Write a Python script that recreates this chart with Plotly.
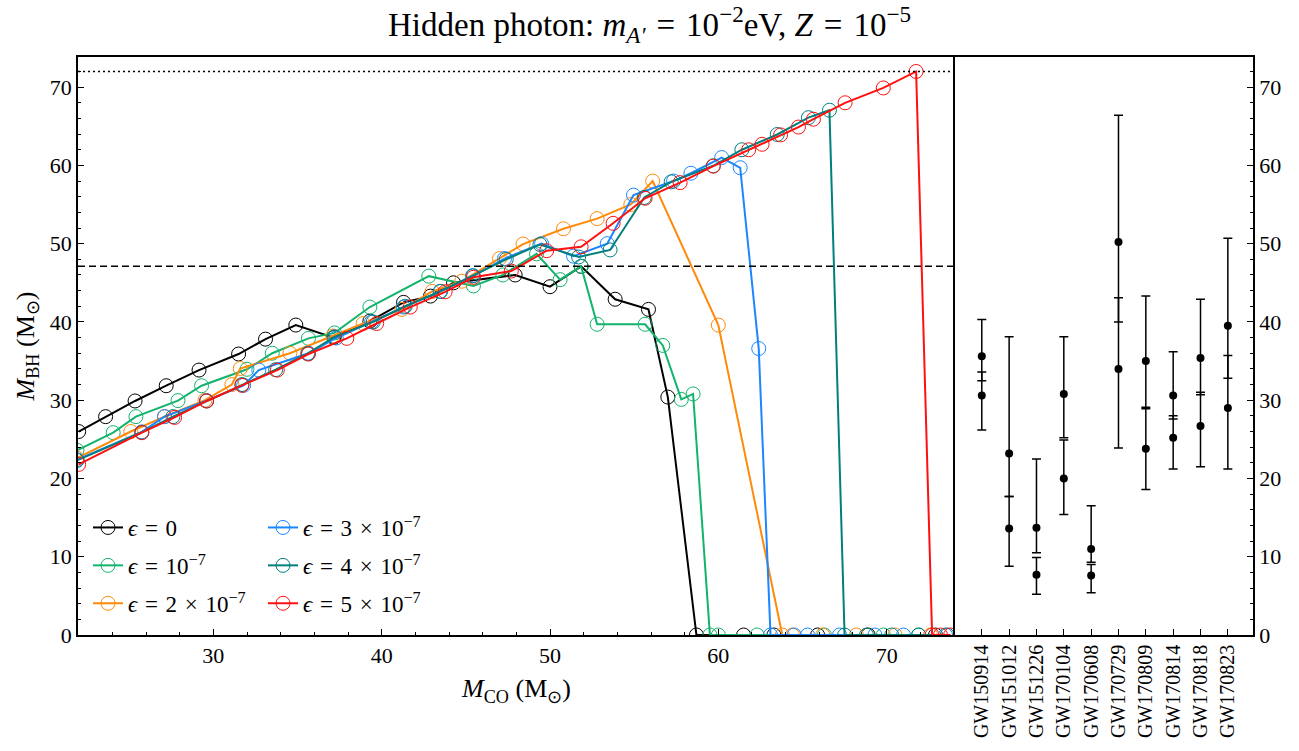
import plotly.graph_objects as go

# ---------------- data ----------------
black_x = [22.0, 23.6, 25.35, 27.2, 29.15, 31.5, 33.1, 34.9, 37.15, 39.3, 41.3, 42.9, 44.27, 47.93, 50.0, 51.85, 53.87, 55.85, 57.0, 58.7, 61.5, 63.3, 65.9, 68.9, 72.9]
black_y = [26.0, 27.9, 29.9, 31.85, 33.85, 35.9, 37.8, 39.6, 38.0, 40.1, 42.5, 43.3, 45.0, 46.0, 44.5, 47.1, 42.9, 41.6, 30.4, 0, 0, 0, 0, 0, 0]

green_x = [21.9, 24.05, 25.4, 27.9, 29.3, 32.0, 33.5, 35.65, 37.2, 39.3, 42.8, 45.45, 47.2, 49.2, 50.6, 51.85, 52.8, 55.65, 56.7, 57.8, 58.5, 59.5, 60.0, 62.3, 66.3, 69.8, 71.9]
green_y = [23.6, 25.85, 27.9, 29.95, 31.85, 33.95, 36.0, 37.9, 38.6, 41.9, 45.85, 44.6, 46.0, 48.7, 45.4, 47.1, 39.7, 39.7, 37.0, 30.1, 30.8, 0, 0, 0, 0, 0, 0]

orange_x = [21.9, 25.1, 27.1, 29.5, 31.1, 31.6, 34.55, 37.1, 38.9, 41.2, 43.0, 44.76, 47.0, 48.4, 50.8, 52.8, 54.8, 56.1, 60.0, 63.8, 64.4, 66.2, 68.2, 70.5, 72.6]
orange_y = [22.6, 26.0, 27.9, 30.0, 32.0, 34.05, 36.0, 38.2, 39.8, 41.6, 43.9, 45.2, 48.1, 49.95, 51.9, 53.2, 55.0, 58.0, 39.6, 0, 0, 0, 0, 0, 0]

blue_x = [21.9, 25.75, 27.1, 29.6, 31.8, 32.7, 35.65, 37.3, 39.4, 41.3, 43.47, 45.45, 47.3, 49.5, 51.4, 53.4, 54.96, 57.34, 58.37, 60.2, 61.3, 62.4, 63.1, 64.5, 65.3, 67.2, 69.3, 71.0, 73.5]
blue_y = [22.4, 25.95, 27.9, 29.95, 31.9, 33.85, 36.0, 37.95, 40.0, 41.9, 43.9, 45.9, 48.1, 50.0, 48.4, 50.0, 56.2, 58.0, 59.0, 61.0, 59.7, 36.6, 0, 0, 0, 0, 0, 0, 0]

teal_x = [21.9, 25.75, 27.6, 29.6, 31.7, 33.7, 35.6, 37.2, 39.5, 41.4, 43.5, 45.4, 47.4, 49.4, 51.7, 53.57, 55.6, 57.2, 59.7, 61.4, 63.5, 65.35, 66.6, 67.5, 68.8, 70.3, 71.9, 73.6]
teal_y = [22.3, 25.9, 27.9, 29.9, 32.0, 33.9, 35.95, 38.1, 40.0, 42.0, 43.9, 45.9, 48.0, 49.9, 48.3, 49.2, 55.9, 57.9, 59.95, 62.0, 63.95, 66.1, 67.05, 0, 0, 0, 0, 0]

red_x = [22.0, 25.75, 27.7, 29.6, 31.7, 33.8, 35.65, 37.93, 39.7, 41.7, 43.77, 45.45, 47.7, 49.8, 51.85, 53.75, 55.65, 57.73, 59.7, 61.8, 62.6, 63.7, 64.76, 65.65, 67.53, 69.8, 71.75, 72.7, 73.2, 73.8]
red_y = [21.8, 25.85, 27.8, 29.9, 31.9, 33.85, 35.9, 37.9, 39.8, 41.9, 43.85, 45.7, 46.5, 49.1, 49.6, 52.6, 55.8, 57.8, 59.9, 62.0, 62.7, 63.9, 64.9, 65.9, 68.0, 69.9, 72.0, 0, 0, 0]

SP = "\u2004"  # slightly wider space, mimicking TeX math spacing
series_names = ["<i>ϵ</i>" + SP + "=" + SP + "0",
                "<i>ϵ</i>" + SP + "=" + SP + "10<sup>−7</sup>",
                "<i>ϵ</i>" + SP + "=" + SP + "2" + SP + "×" + SP + "10<sup>−7</sup>",
                "<i>ϵ</i>" + SP + "=" + SP + "3" + SP + "×" + SP + "10<sup>−7</sup>",
                "<i>ϵ</i>" + SP + "=" + SP + "4" + SP + "×" + SP + "10<sup>−7</sup>",
                "<i>ϵ</i>" + SP + "=" + SP + "5" + SP + "×" + SP + "10<sup>−7</sup>"]
series_colors = ["#000000", "#12b46c", "#ff8a0a", "#1a86ff", "#00807c", "#ff1010"]

pisn_gap_low = 47.1   # dashed line
pisn_gap_top = 72.0   # dotted line

events = ["GW150914", "GW151012", "GW151226", "GW170104", "GW170608",
          "GW170729", "GW170809", "GW170814", "GW170818", "GW170823"]
m1 = [35.6, 23.2, 13.7, 30.8, 11.0, 50.2, 35.0, 30.6, 35.4, 39.5]
m1_up = [4.7, 14.9, 8.8, 7.3, 5.5, 16.2, 8.3, 5.6, 7.5, 11.2]
m1_lo = [3.1, 5.5, 3.2, 5.6, 1.7, 10.2, 5.9, 3.0, 4.7, 6.7]
m2 = [30.6, 13.6, 7.7, 20.0, 7.6, 34.0, 23.8, 25.2, 26.7, 29.0]
m2_up = [3.0, 4.1, 2.2, 4.9, 1.4, 9.1, 5.1, 2.8, 4.3, 6.7]
m2_lo = [4.4, 4.8, 2.5, 4.6, 2.2, 10.1, 5.2, 4.0, 5.2, 7.8]

x_range = [21.96, 74.06]
y_range = [0, 73.85]
y_ticks = [0, 10, 20, 30, 40, 50, 60, 70]
x_ticks = [30, 40, 50, 60, 70]

# ---------------- figure ----------------
FONT = "Liberation Serif"
TICK = 22
fig = go.Figure()

xs = [black_x, green_x, orange_x, blue_x, teal_x, red_x]
ys = [black_y, green_y, orange_y, blue_y, teal_y, red_y]
for i, (sx, sy) in enumerate(zip(xs, ys)):
    fig.add_trace(go.Scatter(
        x=sx, y=sy, mode="lines+markers", name=series_names[i],
        line=dict(color=series_colors[i], width=2),
        marker=dict(symbol="circle-open", size=14, color=series_colors[i], line=dict(width=1)),
        legend="legend" if i < 3 else "legend2",
        legendgroup="g%d" % i,
        xaxis="x", yaxis="y",
    ))

ev_idx = list(range(len(events)))
fig.add_trace(go.Scatter(
    x=ev_idx, y=m1, mode="markers", showlegend=False,
    marker=dict(color="black", size=8),
    error_y=dict(type="data", array=m1_up, arrayminus=m1_lo, color="black", thickness=1.5, width=4.5),
    xaxis="x2", yaxis="y2"))
fig.add_trace(go.Scatter(
    x=ev_idx, y=m2, mode="markers", showlegend=False,
    marker=dict(color="black", size=8),
    error_y=dict(type="data", array=m2_up, arrayminus=m2_lo, color="black", thickness=1.5, width=4.5),
    xaxis="x2", yaxis="y2"))

fig.add_shape(type="line", xref="x domain", yref="y", x0=0, x1=1, y0=pisn_gap_low, y1=pisn_gap_low,
              line=dict(color="black", width=1.5, dash="7px,4px"))
fig.add_shape(type="line", xref="x domain", yref="y", x0=0, x1=1, y0=pisn_gap_top, y1=pisn_gap_top,
              line=dict(color="black", width=1.5, dash="2px,3px"))

split = (955 - 78) / 1175.0
axcommon = dict(showline=True, linecolor="black", linewidth=1.5, showgrid=False,
                zeroline=False, ticks="inside", tickcolor="black", tickwidth=1, ticklen=6)
tickfont = dict(family=FONT, size=TICK, color="black")
minor = dict(ticks="inside", dtick=2, tick0=0, ticklen=3.5, tickcolor="black")

fig.update_layout(
    width=1299, height=751,
    margin=dict(l=78, r=46, t=57, b=116, autoexpand=False),
    plot_bgcolor="white", paper_bgcolor="white",
    font=dict(family=FONT, size=TICK, color="black"),
    title=dict(text="Hidden photon: <i>m</i><sub><i>A′</i></sub>" + SP + "=" + SP + "10<sup>−2</sup>eV, <i>Z</i>" + SP + "=" + SP + "10<sup>−5</sup>",
               x=0.5, xref="container", xanchor="center", y=0.968, yref="container", yanchor="middle",
               font=dict(family=FONT, size=33, color="black")),
    xaxis=dict(domain=[0, split], range=x_range, tickvals=x_ticks, anchor="y", mirror=True,
               minor=minor, tickfont=tickfont,
               title=dict(text="<i>M</i><sub>CO</sub> (M<sub>⊙</sub>)", standoff=12,
                          font=dict(family=FONT, size=26)),
               **axcommon),
    yaxis=dict(domain=[0, 1], range=y_range, tickvals=y_ticks, anchor="x", mirror=False,
               minor=minor, tickfont=tickfont,
               title=dict(text="<i>M</i><sub>BH</sub> (M<sub>⊙</sub>)", standoff=8,
                          font=dict(family=FONT, size=26)),
               **axcommon),
    xaxis2=dict(domain=[split, 1], range=[-0.98, 9.92], anchor="y2", mirror=True,
                tickvals=ev_idx, ticktext=events, tickangle=-90,
                tickfont=dict(family=FONT, size=20, color="black"), **axcommon),
    yaxis2=dict(domain=[0, 1], range=y_range, tickvals=y_ticks, anchor="x2", side="right",
                mirror=True, minor=minor, tickfont=tickfont, **axcommon),
    legend=dict(x=(88 - 78) / 1175, y=1 - (506 - 57) / 578, xanchor="left", yanchor="top",
                bgcolor="rgba(0,0,0,0)", font=dict(family=FONT, size=23), tracegroupgap=5,
                itemclick=False),
    legend2=dict(x=(263 - 78) / 1175, y=1 - (506 - 57) / 578, xanchor="left", yanchor="top",
                 bgcolor="rgba(0,0,0,0)", font=dict(family=FONT, size=23), tracegroupgap=5,
                 itemclick=False),
    showlegend=True,
)

fig.write_html("out.html")
